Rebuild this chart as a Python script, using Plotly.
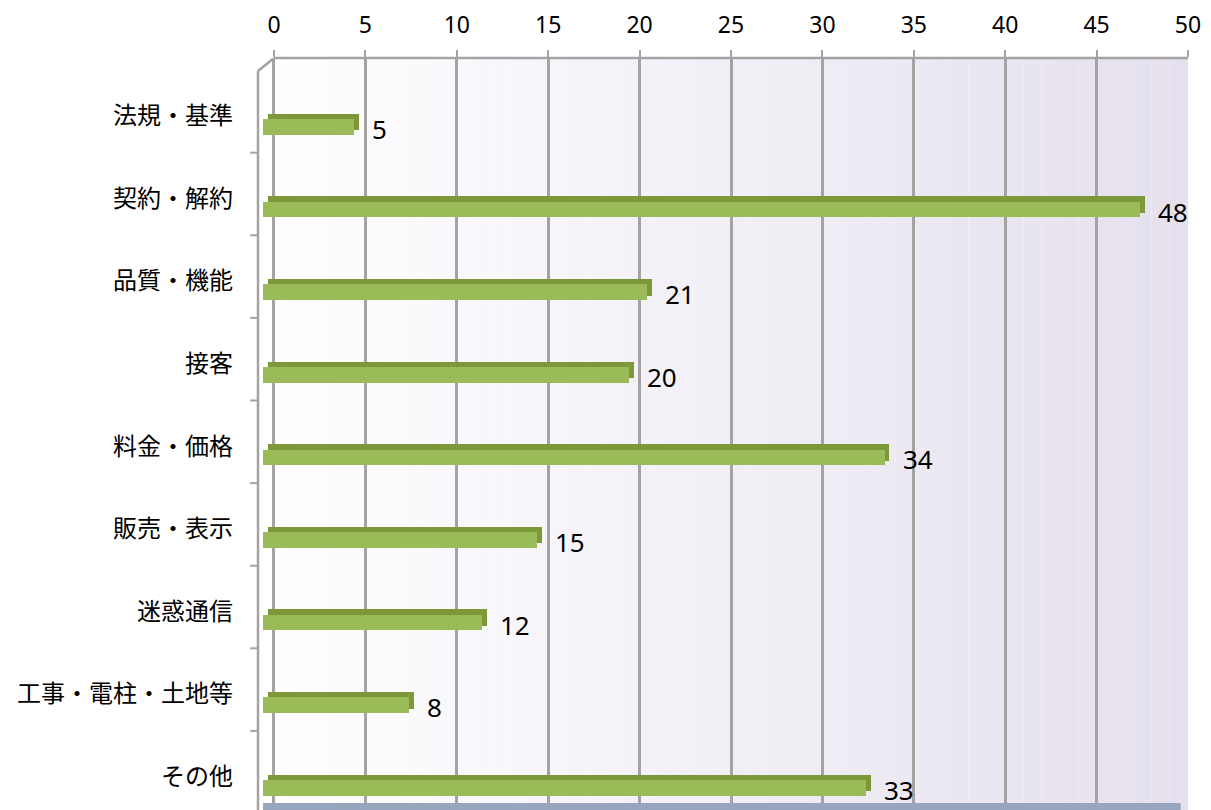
import plotly.graph_objects as go

categories = ["法規・基準", "契約・解約", "品質・機能", "接客", "料金・価格",
              "販売・表示", "迷惑通信", "工事・電柱・土地等", "その他"]
values = [5, 48, 21, 20, 34, 15, 12, 8, 33]
x_ticks = [0, 5, 10, 15, 20, 25, 30, 35, 40, 45, 50]

idx = list(range(len(categories)))

fig = go.Figure()

# back (top/side face) of 3D bar
fig.add_trace(go.Bar(
    y=[i + 0.075 for i in idx], x=values, base=-0.33, orientation="h",
    width=0.2, marker=dict(color="#7C9838", line=dict(width=0)),
    hoverinfo="skip", showlegend=False))
# front face
fig.add_trace(go.Bar(
    y=[i + 0.135 for i in idx], x=values, base=-0.6, orientation="h",
    width=0.19, marker=dict(color="#9BBB59", line=dict(width=0)),
    showlegend=False))

shapes = []
# background gradient (white -> lavender)
n = 50
c0 = (254, 254, 255)
c1 = (229, 224, 237)
for k in range(n):
    t = k / (n - 1)
    col = tuple(round(c0[j] + (c1[j] - c0[j]) * t) for j in range(3))
    shapes.append(dict(type="rect", xref="x", yref="paper", x0=k, x1=k + 1,
                       y0=0, y1=1, fillcolor="rgb(%d,%d,%d)" % col,
                       line=dict(width=0), layer="below"))
grid_col = "#A3A3A3"
# top axis line
shapes.append(dict(type="line", xref="x", yref="paper", x0=0, x1=50, y0=1, y1=1,
                   line=dict(color=grid_col, width=2.5)))
# left wall
shapes.append(dict(type="line", xref="x", yref="y", x0=-0.875, x1=-0.875,
                   y0=-0.543, y1=8.6, line=dict(color=grid_col, width=2.5)))
shapes.append(dict(type="line", xref="x", yref="y", x0=-0.875, x1=0,
                   y0=-0.543, y1=-0.70, line=dict(color=grid_col, width=2.5)))
for i in idx[:-1]:
    shapes.append(dict(type="line", xref="x", yref="y", x0=-1.3, x1=-0.875,
                       y0=i + 0.446, y1=i + 0.446,
                       line=dict(color=grid_col, width=2)))
# floor
shapes.append(dict(type="rect", xref="x", yref="paper", x0=-0.6, x1=49.6,
                   y0=0.0105, y1=0.0197, fillcolor="#97A5BF", line=dict(width=0)))

annotations = []
for i, v in zip(idx, values):
    annotations.append(dict(x=v, y=i + 0.16, xref="x", yref="y", text=str(v),
                            showarrow=False, xanchor="left", yanchor="middle",
                            xshift=5,
                            font=dict(family="Noto Sans", size=26, color="#000000")))

fig.update_layout(
    width=1211, height=810,
    margin=dict(l=240, r=31, t=47, b=0),
    paper_bgcolor="white", plot_bgcolor="white",
    bargap=0, barmode="overlay",
    shapes=shapes, annotations=annotations,
    xaxis=dict(side="top", range=[-1.422, 50], tickvals=x_ticks,
               ticktext=[str(t) for t in x_ticks],
               showgrid=True, gridcolor=grid_col, gridwidth=2.5,
               zeroline=False, showline=False,
               ticks="outside", ticklen=7, tickwidth=2, tickcolor=grid_col,
               ticklabelstandoff=8,
               tickfont=dict(family="Noto Sans", size=23, color="#000000")),
    yaxis=dict(range=[8.50, -0.70], tickvals=idx, ticktext=categories,
               showgrid=False, zeroline=False, showline=False, ticks="",
               ticklabelstandoff=14,
               tickfont=dict(family="Noto Sans CJK JP", size=24, color="#000000")),
)

fig.write_html("out.html")
